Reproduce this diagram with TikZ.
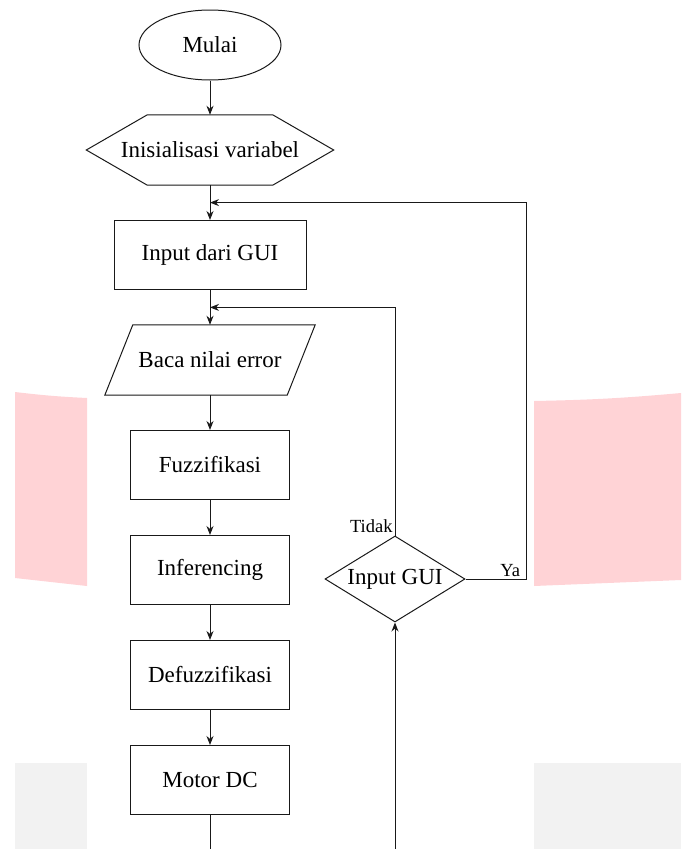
\documentclass[tikz,border=0pt]{standalone}
\usepackage{fontspec}
\setmainfont{Liberation Serif}
\usetikzlibrary{positioning,calc,shapes.geometric,arrows.meta}
\newdimen\stepDist
\stepDist=105pt
\definecolor{bandPink}{HTML}{FFD3D6}
\definecolor{bandGray}{HTML}{F2F2F2}

\begin{document}
\begin{tikzpicture}[
    font=\fontsize{23}{27}\selectfont,
    line/.style={draw=black!90, line width=1pt},
    flow/.style={line, -{Stealth[length=9pt,width=7pt]}},
    box/.style={%
      line,
      rectangle,
      minimum width=159pt,
      minimum height=69pt,
      inner sep=0pt,
    },
    start/.style={line, ellipse, minimum width=142pt, minimum height=70pt, inner sep=0pt},
    plain/.style={rectangle, minimum height=70pt, inner sep=0pt},
    decision/.style={line, diamond, aspect=1.63, minimum width=140pt, minimum height=86pt, inner sep=0pt},
    branch/.style={font=\fontsize{18.5}{22}\selectfont, inner sep=2pt},
  ]

    % watermark bands behind the chart
    \fill [bandPink] (15pt,-392pt) to [bend right=2] (87pt,-398pt) -- (87pt,-586pt)
      -- (15pt,-578pt) -- cycle;
    \fill [bandPink] (534pt,-401pt) to [bend right=2] (681pt,-393pt) -- (681pt,-580pt)
      -- (534pt,-586pt) -- cycle;
    \fill [bandGray] (15pt,-763pt) rectangle (87pt,-849pt);
    \fill [bandGray] (534pt,-763pt) rectangle (681pt,-849pt);
    \useasboundingbox (0,0) rectangle (681pt,-849pt);
    \coordinate (pageBottom) at (0,-849pt);

    \node [start] (mulai) at (210pt,-45pt) {Mulai};
    \path (mulai) ++(-90:\stepDist) node [plain, minimum width=247pt] (init) {Inisialisasi variabel};
    \path (init) ++(-90:\stepDist) node [box, minimum width=192pt] (gui) {Input dari GUI};
    \path (gui) ++(-90:\stepDist) node [plain, minimum width=182pt] (baca) {Baca nilai error};
    \path (baca) ++(-90:\stepDist) node [box] (fuzz) {Fuzzifikasi};
    \path (fuzz) ++(-90:\stepDist) node [box] (infer) {Inferencing};
    \path (infer) ++(-90:\stepDist) node [box] (defuzz) {Defuzzifikasi};
    \path (defuzz) ++(-90:\stepDist) node [box] (motor) {Motor DC};
    \node [decision] (cek) at (395pt,-579pt) {Input GUI};

    % hexagon and parallelogram outlines
    \draw [line] (init.west) -- ([xshift=61pt]init.north west) -- ([xshift=-61pt]init.north east)
      -- (init.east) -- ([xshift=-61pt]init.south east) -- ([xshift=61pt]init.south west) -- cycle;
    \draw [line] ([xshift=-14pt]baca.south west) -- ([xshift=14pt]baca.north west)
      -- ([xshift=14pt]baca.north east) -- ([xshift=-14pt]baca.south east) -- cycle;

    \coordinate (backYa) at ($(init.south)!0.5!(gui.north)$);
    \coordinate (backTidak) at ($(gui.south)!0.5!(baca.north)$);

    \draw [flow] (mulai) -- (init);
    \draw [flow] (init) -- (gui);
    \draw [flow] (gui) -- (baca);
    \draw [flow] (baca) -- (fuzz);
    \draw [flow] (fuzz) -- (infer);
    \draw [flow] (infer) -- (defuzz);
    \draw [flow] (defuzz) -- (motor);
    \draw [line] (motor) -- (motor.south |- pageBottom);
    \draw [flow] (cek.south |- pageBottom) -- (cek);
    \draw [flow] (cek.north) node [branch, above left] {Tidak} |- (backTidak);
    \draw [flow] (cek.east) -- ++(61pt,0) node [branch, above left, xshift=-4pt] {Ya} |- (backYa);
    \end{tikzpicture}
\end{document}
